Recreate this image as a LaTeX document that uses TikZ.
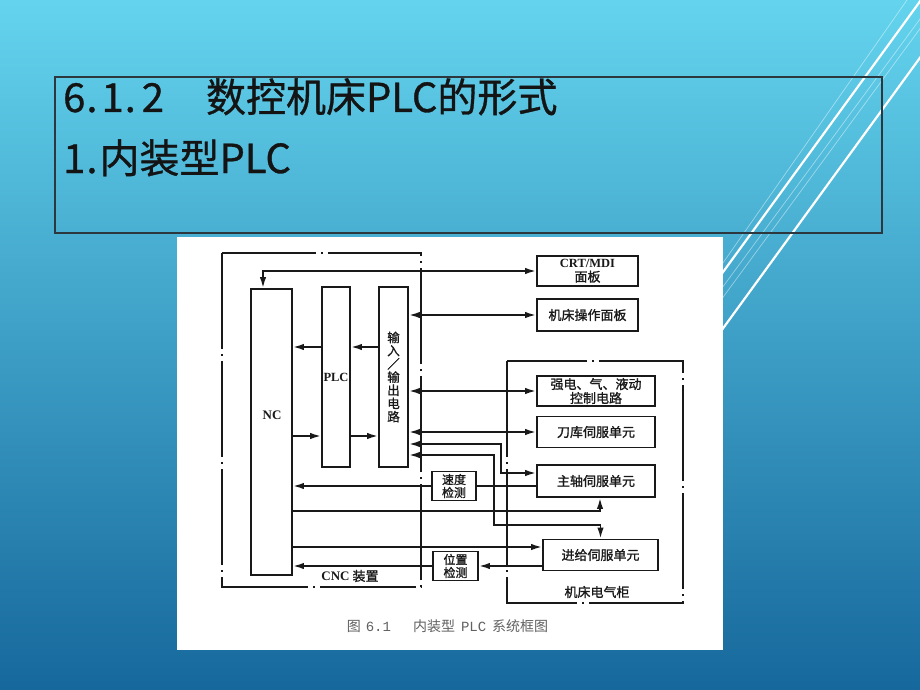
\documentclass[tikz,border=0pt]{standalone}
\usepackage{fontspec}
\setmainfont{Liberation Serif}
\newfontfamily\cjk[FakeBold=1.2]{Noto Sans CJK SC}
\newfontfamily\capcjk{Noto Sans CJK SC}
\newfontfamily\headfont[FakeBold=0.8]{Noto Sans CJK SC}
\newfontfamily\capmono{Liberation Mono}
\usetikzlibrary{arrows.meta}
\definecolor{skytop}{RGB}{100,212,238}
\definecolor{skymid}{RGB}{64,166,208}
\definecolor{skybot}{RGB}{22,104,156}
\definecolor{ink}{RGB}{25,25,25}
\definecolor{framegray}{RGB}{44,56,62}

\tikzset{
  blk/.style={draw=ink, line width=1.9pt, inner sep=0pt, align=center,
    font=\cjk\fontsize{13}{14}\selectfont, text=ink},
  wire/.style={draw=ink, line width=1.8pt},
  dashdot/.style={draw=ink, line width=1.5pt, dash pattern=on 96pt off 5pt on 2pt off 5pt},
  lbl/.style={font=\cjk\fontsize{13}{14}\selectfont, text=ink, inner sep=0pt},
  >={Latex[length=11pt,width=6.5pt]}
}

\begin{document}
\begin{tikzpicture}[x=1pt,y=-1pt]
  \useasboundingbox (0,0) rectangle (920,690);
  % background and the white strokes top right
  \shade[top color=skytop, middle color=skymid, bottom color=skybot] (0,0) rectangle (920,690);
  \draw[white, opacity=0.45, line width=0.7pt] (907,0) -- (655,360);
  \draw[white, line width=2.2pt] (921,0) -- (659,360);
  \draw[white, opacity=0.45, line width=0.7pt] (934,0) -- (669,360);
  \draw[white, opacity=0.45, line width=0.7pt] (941,0) -- (677,360);
  \draw[white, line width=2.2pt] (962,0) -- (700,360);

  % title frame
  \draw[framegray, line width=1.4pt] (55,77) rectangle (882,233);
  \node[anchor=base west, inner sep=0pt, text=black!92, font=\headfont\fontsize{40}{40}\selectfont]
    (head) at (63,112) {6\kern1pt.\kern4pt1\kern1pt.\kern6pt2\hspace{42pt}数控机床PLC的形式};
  \node[anchor=base west, inner sep=0pt, text=black!92, font=\headfont\fontsize{40}{40}\selectfont]
    (sub) at (63,173) {1\kern1pt.\kern2pt内装型PLC};

  % figure panel
  \fill[white] (177,237) rectangle (723,650);

  % frames
  \draw[dashdot] (222,253) rectangle (421,587);
  \draw[dashdot] (507,361) rectangle (683,603);

  % CNC side
  \node[blk, minimum width=41pt, minimum height=286pt] (nc) at (271.5,432) {};
  \node[lbl, font=\rmfamily\bfseries\fontsize{13}{14}\selectfont] (nctxt) at (272,415) {NC};
  \node[blk, minimum width=28pt, minimum height=180pt, font=\rmfamily\bfseries\fontsize{12.5}{14}\selectfont] (plc) at (336,377) {PLC};
  \node[blk, minimum width=29pt, minimum height=180pt, font=\cjk\fontsize{12.5}{13.2}\selectfont] (io) at (393.5,377) {输\\入\\／\\输\\出\\电\\路};
  \node[blk, minimum width=44pt, minimum height=29pt, font=\cjk\fontsize{12}{13}\selectfont] (spd) at (454,486) {速度\\检测};
  \node[blk, minimum width=45pt, minimum height=29pt, font=\cjk\fontsize{12}{13}\selectfont] (pos) at (455.5,566) {位置\\检测};
  \node[lbl] (cnc) at (350,576) {{\rmfamily\bfseries CNC} 装置};

  % machine side
  \node[blk, minimum width=101pt, minimum height=30pt] (crt) at (587.5,271) {{\rmfamily\bfseries\fontsize{12.5}{13}\selectfont CRT/MDI}\\面板};
  \node[blk, minimum width=101pt, minimum height=32pt] (op) at (587.5,315) {机床操作面板};
  \node[blk, minimum width=118pt, minimum height=30pt] (hv) at (596,391) {强电、气、液动\\控制电路};
  \node[blk, minimum width=118pt, minimum height=31pt] (tool) at (596,432) {刀库伺服单元};
  \node[blk, minimum width=118pt, minimum height=32pt] (spn) at (596,481) {主轴伺服单元};
  \node[blk, minimum width=115pt, minimum height=31pt] (feed) at (600.5,555) {进给伺服单元};
  \node[lbl] (cab) at (597,592) {机床电气柜};

  % inside the CNC unit
  \coordinate (hi) at ([yshift=30pt]plc.west);
  \coordinate (lo) at ([yshift=-59pt]plc.west);
  \draw[wire,->] ([yshift=30pt]io.west) -- ([yshift=30pt]plc.east);
  \draw[wire,->] (hi) -- (hi -| nc.east);
  \draw[wire,->] (lo -| nc.east) -- (lo);
  \draw[wire,->] ([yshift=-59pt]plc.east) -- ([yshift=-59pt]io.west);

  % to the panels and the cabinet
  \draw[wire,<->] ([xshift=-8.5pt]nc.north) |- (crt.west);
  \draw[wire,<->] (io.east |- op.west) -- (op.west);
  \draw[wire,<->] (io.east |- hv.west) -- (hv.west);
  \draw[wire,<->] (io.east |- tool.west) -- (tool.west);
  \draw[wire,<->] ([yshift=-67pt]io.east) -- ++(92,0) |- ([yshift=8pt]spn.west);
  \draw[wire,<->] ([yshift=-78pt]io.east) -- ++(85,0) -- ++(0,70) -| (feed.north);
  \draw[wire,->] ([yshift=-79pt]nc.east) -| ([xshift=4pt]spn.south);
  \draw[wire,->] ([yshift=-115pt]nc.east) -- ([yshift=8pt]feed.west);

  % feedback
  \draw[wire] (spn.west |- spd.east) -- (spd.east);
  \draw[wire,->] (spd.west) -- (spd.west -| nc.east);
  \draw[wire,->] (feed.west |- pos.east) -- (pos.east);
  \draw[wire,->] (pos.west) -- (pos.west -| nc.east);

  \node[font=\capcjk\fontsize{14}{14}\selectfont, text=black!62, inner sep=0pt] (cap) at (447.5,626)
    {图\hspace{5pt}{\capmono 6.1}\hspace{22pt}内装型\hspace{6pt}{\capmono PLC}\hspace{6pt}系统框图};
\end{tikzpicture}
\end{document}
